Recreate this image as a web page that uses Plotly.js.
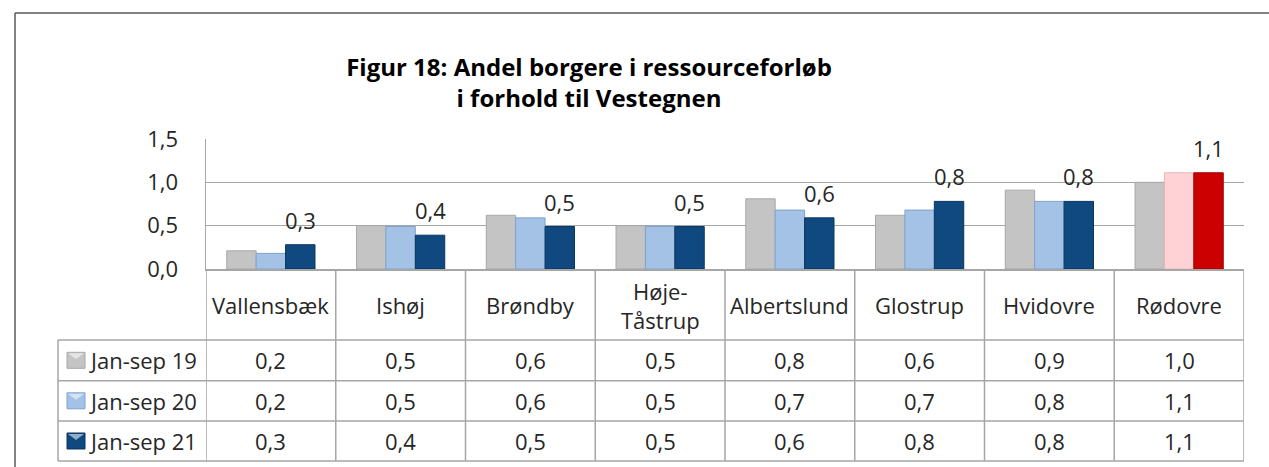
<!DOCTYPE html>
<html>
<head>
<meta charset="utf-8">
<script src="https://cdn.plot.ly/plotly-3.0.1.min.js"></script>
<style>
  html, body { margin: 0; padding: 0; background: #ffffff; }
  #chart { width: 1269px; height: 467px; }
</style>
</head>
<body>
<div id="chart"></div>
<script>
// ---------- data ----------
const categories = ['Vallensbæk', 'Ishøj', 'Brøndby', 'Høje-Tåstrup', 'Albertslund', 'Glostrup', 'Hvidovre', 'Rødovre'];
const categoryLabels = ['Vallensbæk', 'Ishøj', 'Brøndby', 'Høje-<br>Tåstrup', 'Albertslund', 'Glostrup', 'Hvidovre', 'Rødovre'];
const seriesNames = ['Jan-sep 19', 'Jan-sep 20', 'Jan-sep 21'];
const janSep19 = [0.21, 0.50, 0.62, 0.50, 0.81, 0.62, 0.91, 1.00];
const janSep20 = [0.18, 0.49, 0.59, 0.49, 0.68, 0.68, 0.78, 1.11];
const janSep21 = [0.28, 0.39, 0.49, 0.49, 0.59, 0.78, 0.78, 1.11];
const yTickVals = [0, 0.5, 1.0, 1.5];
const titleText = '<b>Figur 18: Andel borgere i ressourceforløb<br>i forhold til Vestegnen</b>';

// ---------- styles ----------
const W = 1269, H = 467;
const L = 206, R = 1244, T = 139, B = 269;
const FONT = 'Open Sans, Noto Sans, sans-serif';
const TXT = '#262626';
const GRID = '#A6A6A6';
const baseColors = ['#C4C4C4', '#A3C2E6', '#10497F'];
const lineColors = ['#A8A8A8', '#7FA3CF', '#0A3560'];
const highlightName = 'Rødovre';
const highlightColors = ['#C4C4C4', '#FFD3D6', '#CC0000'];
const highlightLines = ['#A8A8A8', '#E8B4B8', '#960000'];

const px = p => (p - L) / (R - L);
const py = p => (B - p) / (B - T);

const seriesData = [janSep19, janSep20, janSep21];

const traces = seriesData.map((vals, s) => ({
  type: 'bar',
  name: seriesNames[s],
  x: categories,
  y: vals,
  marker: {
    color: categories.map(c => c === highlightName ? highlightColors[s] : baseColors[s]),
    line: { color: categories.map(c => c === highlightName ? highlightLines[s] : lineColors[s]), width: 1 }
  },
  hoverinfo: 'x+y+name'
}));

// ---------- table geometry (pixels) ----------
const rowLines = [340, 380.7, 421, 461];
const legendLeft = 58;
const catRowCenter = 305;
const valueRowCenters = [360.3, 400.8, 441];

const shapes = [];
// horizontal table lines
rowLines.forEach(yPix => {
  shapes.push({ type: 'line', xref: 'paper', yref: 'paper', x0: px(legendLeft), x1: px(R), y0: py(yPix), y1: py(yPix), line: { color: GRID, width: 1.5 } });
});
// vertical column lines
for (let i = 0; i <= categories.length; i++) {
  shapes.push({ type: 'line', xref: 'x', yref: 'paper', x0: i - 0.5, x1: i - 0.5, y0: py(B), y1: py(rowLines[3]), line: { color: GRID, width: 1.5 } });
}
// legend column left edge
shapes.push({ type: 'line', xref: 'paper', yref: 'paper', x0: px(legendLeft), x1: px(legendLeft), y0: py(rowLines[0]), y1: py(rowLines[3]), line: { color: GRID, width: 1.5 } });
// outer chart border (left + top, continues beyond picture)
shapes.push({ type: 'line', xref: 'paper', yref: 'paper', x0: px(15), x1: px(15), y0: py(13), y1: py(H + 10), line: { color: '#595959', width: 1.5 } });
shapes.push({ type: 'line', xref: 'paper', yref: 'paper', x0: px(15), x1: px(W + 10), y0: py(13), y1: py(13), line: { color: '#595959', width: 1.5 } });
// legend keys
valueRowCenters.forEach((cy, s) => {
  shapes.push({ type: 'rect', xref: 'paper', yref: 'paper', x0: px(67), x1: px(85), y0: py(cy - 8), y1: py(cy + 8), fillcolor: baseColors[s], line: { color: lineColors[s], width: 1 } });
  shapes.push({ type: 'path', xref: 'paper', yref: 'paper',
    path: 'M ' + px(68) + ' ' + py(cy - 7) + ' L ' + px(84) + ' ' + py(cy - 7) + ' L ' + px(76) + ' ' + py(cy - 1) + ' Z',
    fillcolor: 'rgba(255,255,255,0.55)', line: { width: 0 } });
});

const fmt = v => v.toFixed(1).replace('.', ',');

const annotations = [];
// category labels
categoryLabels.forEach((lab, i) => {
  annotations.push({ xref: 'x', yref: 'paper', x: categories[i], y: py(catRowCenter), text: lab, showarrow: false, xanchor: 'center', yanchor: 'middle', font: { family: FONT, size: 22, color: TXT } });
});
// table values and legend labels
seriesData.forEach((vals, s) => {
  vals.forEach((v, i) => {
    annotations.push({ xref: 'x', yref: 'paper', x: categories[i], y: py(valueRowCenters[s]), text: fmt(v), showarrow: false, xanchor: 'center', yanchor: 'middle', font: { family: FONT, size: 22, color: TXT } });
  });
  annotations.push({ xref: 'paper', yref: 'paper', x: px(87), y: py(valueRowCenters[s]), text: seriesNames[s], showarrow: false, xanchor: 'left', yanchor: 'middle', font: { family: FONT, size: 22, color: TXT } });
});
// data labels for last series (above the third bar of each group)
const barW = (R - L) / categories.length * (1 - 0.32) / 3;
janSep21.forEach((v, i) => {
  annotations.push({ xref: 'x', yref: 'y', x: categories[i], y: v, xshift: barW, yshift: 8, text: fmt(v), showarrow: false, xanchor: 'center', yanchor: 'bottom', font: { family: FONT, size: 22, color: TXT } });
});

const layout = {
  width: W, height: H,
  margin: { l: L, r: W - R, t: T, b: H - B, pad: 0 },
  paper_bgcolor: '#ffffff', plot_bgcolor: '#ffffff',
  separators: ',.',
  font: { family: FONT, size: 22, color: TXT },
  title: { text: titleText, font: { family: FONT, size: 24, color: '#000000' }, xref: 'container', yref: 'container', x: 589 / W, y: 1 - 76 / H, xanchor: 'center', yanchor: 'middle' },
  showlegend: false,
  barmode: 'group', bargap: 0.32, bargroupgap: 0,
  xaxis: { type: 'category', range: [-0.5, categories.length - 0.5], showticklabels: false, ticks: '', showgrid: false, zeroline: false, showline: true, linecolor: GRID, linewidth: 1.5, automargin: false, fixedrange: true },
  yaxis: { range: [0, 1.5], tickvals: yTickVals, tickformat: '.1f', showgrid: true, gridcolor: GRID, gridwidth: 1.5, zeroline: false, showline: true, linecolor: GRID, linewidth: 1.5, ticks: '', ticklabelstandoff: 22, tickfont: { family: FONT, size: 22, color: TXT }, automargin: false, fixedrange: true },
  shapes: shapes,
  annotations: annotations
};

Plotly.newPlot('chart', traces, layout, { displayModeBar: false, staticPlot: true });
</script>
</body>
</html>
